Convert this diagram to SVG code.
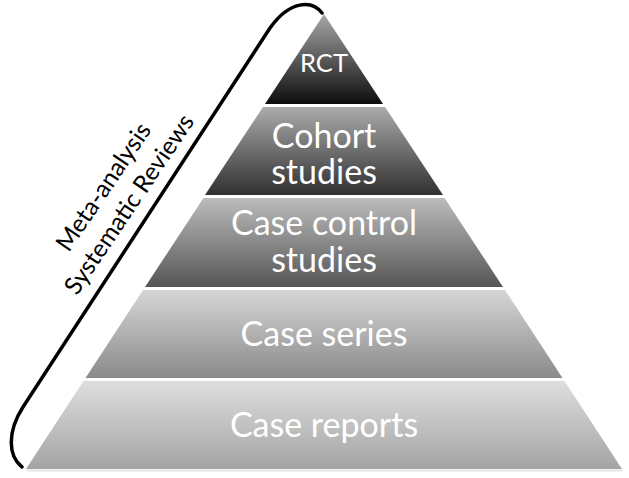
<svg xmlns="http://www.w3.org/2000/svg" width="629" height="478" viewBox="0 0 629 478">
  <defs>
    <linearGradient id="g1" x1="0" y1="0" x2="0" y2="1">
      <stop offset="0" stop-color="#a8a8a8"/>
      <stop offset="1" stop-color="#0c0c0c"/>
    </linearGradient>
    <linearGradient id="g2" x1="0" y1="0" x2="0" y2="1">
      <stop offset="0" stop-color="#ababab"/>
      <stop offset="1" stop-color="#303030"/>
    </linearGradient>
    <linearGradient id="g3" x1="0" y1="0" x2="0" y2="1">
      <stop offset="0" stop-color="#bcbcbc"/>
      <stop offset="1" stop-color="#555555"/>
    </linearGradient>
    <linearGradient id="g4" x1="0" y1="0" x2="0" y2="1">
      <stop offset="0" stop-color="#d6d6d6"/>
      <stop offset="1" stop-color="#8a8a8a"/>
    </linearGradient>
    <linearGradient id="g5" x1="0" y1="0" x2="0" y2="1">
      <stop offset="0" stop-color="#dedede"/>
      <stop offset="1" stop-color="#a4a4a4"/>
    </linearGradient>
  </defs>
  <style>
    .lbl { font-family: Lato, "Liberation Sans", sans-serif; fill: #ffffff; text-anchor: middle; font-size: 34px; }
    .side { font-family: Lato, "Liberation Sans", sans-serif; fill: #000000; text-anchor: middle; font-size: 24.5px; }
    .br { fill: none; stroke: #000000; stroke-width: 3.5; stroke-linecap: round; stroke-linejoin: round; }
  </style>
  <rect width="629" height="478" fill="#ffffff"/>
  <line x1="27" y1="470.5" x2="622" y2="470.5" stroke="#e4e4e4" stroke-width="2"/>

  <g id="rct">
    <polygon points="324,14 383,104 265,104" fill="url(#g1)"/>
    <text class="lbl" x="324" y="72" style="font-size:25.5px">RCT</text>
  </g>
  <g id="cohort">
    <polygon points="263,107 385,107 443,195 205,195" fill="url(#g2)"/>
    <text class="lbl" x="324" y="148">Cohort</text>
    <text class="lbl" x="324" y="184">studies</text>
  </g>
  <g id="case-control">
    <polygon points="203.5,198 444.5,198 503,287 145,287" fill="url(#g3)"/>
    <text class="lbl" x="324" y="235">Case control</text>
    <text class="lbl" x="324" y="272">studies</text>
  </g>
  <g id="case-series">
    <polygon points="143,290 505,290 562.5,378 85.5,378" fill="url(#g4)"/>
    <text class="lbl" x="324" y="346">Case series</text>
  </g>
  <g id="case-reports">
    <polygon points="83.5,381 564.5,381 622,469 26,469" fill="url(#g5)"/>
    <text class="lbl" x="324" y="437">Case reports</text>
  </g>

  <g id="connectors">
    <path class="br" d="M 322,13 C 312,0 290,0 270,28 L 23,407 C 7,432 8,456 22,467"/>
  </g>
  <g id="side-label" transform="translate(117,196) rotate(-56)">
    <text class="side" x="0" y="-8">Meta-analysis</text>
    <text class="side" x="0" y="23">Systematic Reviews</text>
  </g>
</svg>
